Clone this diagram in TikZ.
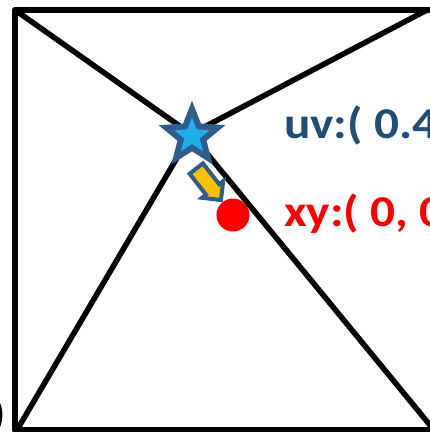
\documentclass[tikz,border=0pt]{standalone}
\usepackage{fontspec}
\setmainfont{Carlito}
\usetikzlibrary{shapes.geometric,shapes.arrows}
\definecolor{uvblue}{HTML}{1F4E79}
\definecolor{starborder}{HTML}{2F5D8C}
\definecolor{starfill}{HTML}{1CB0EA}
\definecolor{arrowfill}{HTML}{FFC000}
\tikzset{
  edge/.style={line width=5.5pt, line cap=round, line join=round},
  shadowedge/.style={line width=5pt, draw=black!15, line cap=round},
  lbl/.style={font=\bfseries\fontsize{44}{46}\selectfont, anchor=base west, inner sep=0pt},
}
\newcommand{\widetext}[1]{\scalebox{1.12}[1]{#1}}
\begin{document}
\begin{tikzpicture}[x=1pt,y=-1pt]
\useasboundingbox (0,0) rectangle (430,432);
\clip (0,0) rectangle (430,432);
\coordinate (tl) at (15,10);
\coordinate (tr) at (427,10);
\coordinate (bl) at (17,430);
\coordinate (br) at (434,430);
\coordinate (c) at (191,134);
% shadows
\begin{scope}[shift={(3,3)}]
\draw[shadowedge] (tl) -- (c) -- (tr);
\draw[shadowedge] (bl) -- (c) -- (br);
\end{scope}
\draw[edge] (15,430) -- (15,10) -- (440,10);
\draw[edge] (15,430) -- (440,430);
\draw[edge] (tl) -- (c) -- (tr);
\draw[edge] (bl) -- (c) -- (br);
\node[star, star points=5, star point ratio=2.3, minimum size=54pt, fill=starfill, draw=starborder, line width=6pt, inner sep=0pt] (st) at (192,136) {};
\node[single arrow, fill=arrowfill, draw=starborder, line width=4pt, rotate=-52, minimum height=40pt, minimum width=27pt, single arrow head extend=3pt, inner sep=3pt] (ar) at (206,181) {};
\node[circle, fill=red, minimum size=33pt, inner sep=0pt] (dot) at (233,215) {};
\node[lbl, text=uvblue] (uv) at (284,138) {\widetext{uv:( 0.4}};
\node[lbl, text=red] (xy) at (284,226) {\widetext{xy:( 0, 0}};
\node[lbl, text=black, anchor=base east] (o) at (6,428) {\widetext{(0, 0)}};
\end{tikzpicture}
\end{document}
